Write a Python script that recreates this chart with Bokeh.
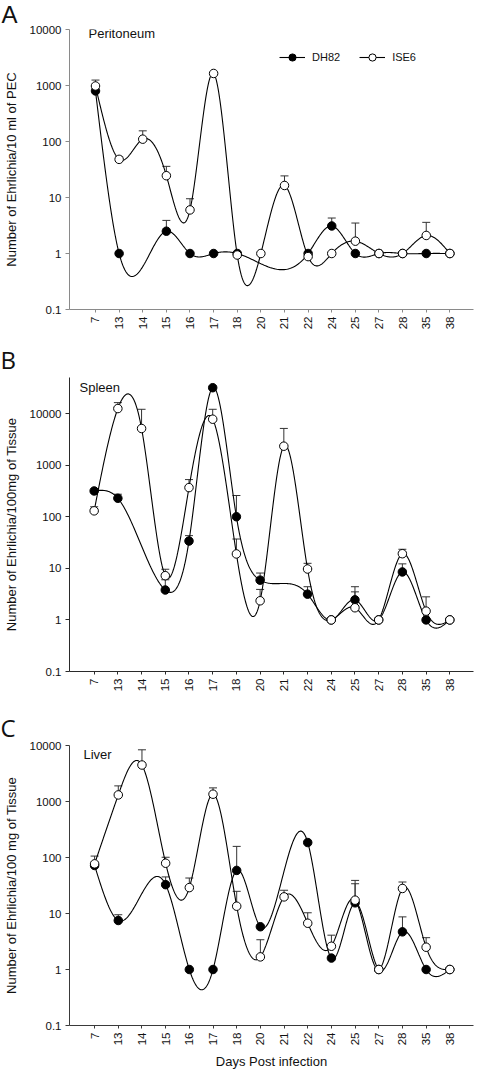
import numpy as np
from bokeh.plotting import figure
from bokeh.layouts import column
from bokeh.models import (Range1d, FixedTicker, CustomJSTickFormatter, Whisker, TeeHead,
                          ColumnDataSource, Label, Legend, LegendItem)
from bokeh.embed import file_html
from bokeh.resources import INLINE

days = ["7", "13", "14", "15", "16", "17", "18", "20", "21", "22", "24", "25", "27", "28", "35", "38"]
ytick_vals = [0.1, 1, 10, 100, 1000, 10000]

peri_dh82 = [800, 1, None, 2.5, 1, 1, 1, None, None, 1, 3.1, 1.0, 1, 1, 1, 1]
peri_dh82_err = [None, None, None, 3.9, None, None, None, None, None, None, 4.3, None, None, None, None, None]
peri_ise6 = [980, 48, 110, 24.5, 6, 1640, 0.94, 1, 16.4, 0.88, 1, 1.66, 1, 1, 2.1, 1]
peri_ise6_err = [1250, 54, 155, 36, 9.5, None, None, None, 24.3, None, None, 3.5, None, None, 3.6, None]

spleen_dh82 = [316, 228, None, 3.8, 33.8, 31700, 100, 5.9, None, 3.16, 1, 2.45, 1, 8.5, 1, 1]
spleen_dh82_err = [None, 273, None, 6, 43, None, 258, 8.1, None, 4.4, None, 4.4, None, 12.2, None, None]
spleen_ise6 = [130, 12500, 5130, 7.2, 367, 7770, 19, 2.35, 2330, 9.7, 1, 1.72, 1, 19.2, 1.48, 1]
spleen_ise6_err = [156, 16300, 12100, 9.6, 525, 12100, 37, 3.9, 5150, 12.5, None, 3.5, None, 23.4, 2.8, None]

liver_dh82 = [72, 7.5, None, 32.7, 1, 1, 58.8, 5.8, None, 185, 1.6, 15.5, 1, 4.7, 1, 1]
liver_dh82_err = [None, 9.5, None, 45, None, None, 158, None, None, None, None, 34, None, 8.7, None, None]
liver_ise6 = [77, 1310, 4480, 79, 29, 1350, 13.5, 1.68, 19.8, 6.7, 2.6, 17.3, 1, 28, 2.5, 1]
liver_ise6_err = [106, 1900, 8380, 101, 43, 1750, 24.9, 3.4, 26, 10.3, 4.1, 39, None, 36.5, 3.7, None]


def natural_spline(t, v, num=50):
    t = np.asarray(t, float)
    v = np.asarray(v, float)
    n = len(t)
    h = np.diff(t)
    A = np.zeros((n, n))
    b = np.zeros(n)
    A[0, 0] = 1
    A[-1, -1] = 1
    for i in range(1, n - 1):
        A[i, i - 1] = h[i - 1]
        A[i, i] = 2 * (h[i - 1] + h[i])
        A[i, i + 1] = h[i]
        b[i] = 6 * ((v[i + 1] - v[i]) / h[i] - (v[i] - v[i - 1]) / h[i - 1])
    M = np.linalg.solve(A, b)
    ox, oy = [], []
    for i in range(n - 1):
        s = np.linspace(t[i], t[i + 1], num, endpoint=(i == n - 2))
        a = t[i + 1] - s
        c = s - t[i]
        y = ((M[i] * a ** 3 + M[i + 1] * c ** 3) / (6 * h[i])
             + (v[i] / h[i] - M[i] * h[i] / 6) * a
             + (v[i + 1] / h[i] - M[i + 1] * h[i] / 6) * c)
        ox.extend(s)
        oy.extend(y)
    return np.array(ox), np.array(oy)


def curve_index(vals):
    xs = [i for i, v in enumerate(vals) if v is not None]
    ys = [np.log10(v) for v in vals if v is not None]
    sx, sy = natural_spline(xs, ys)
    return sx, 10 ** sy


def to_arr(vals):
    return np.array([np.nan if v is None else v for v in vals], float)


def make_panel(height, top, bottom, left, right, xr, ytop, ylabel, axis_color,
               dh82, dh82_err, ise6, ise6_err, name, name_pos, letter, letter_font,
               xlabel=None, legend=False):
    p = figure(width=480, height=height, y_axis_type="log",
               x_range=Range1d(*xr), y_range=Range1d(0.1, ytop),
               output_backend="svg", toolbar_location=None,
               min_border_top=top, min_border_bottom=bottom,
               min_border_left=left, min_border_right=right)
    p.outline_line_color = None
    p.xgrid.grid_line_color = None
    p.ygrid.grid_line_color = None
    p.background_fill_color = "white"

    # panel letter as title, shifted to the left edge of the canvas
    p.title.text = letter
    p.title.text_font = letter_font
    p.title.text_font_size = "24px"
    p.title.text_font_style = "normal"
    p.title.text_color = "#111111"
    p.title.align = "left"
    p.title.offset = -left
    p.title.standoff = 0
    p.title.vertical_align = "top"

    xa = p.xaxis[0]
    xa.ticker = FixedTicker(ticks=list(range(len(days))))
    xa.major_label_overrides = {i: d for i, d in enumerate(days)}
    xa.major_label_orientation = np.pi / 2
    xa.major_tick_in = 0
    xa.major_tick_out = 3
    xa.minor_tick_line_color = None
    xa.major_label_standoff = 4
    xa.axis_line_color = axis_color
    xa.major_tick_line_color = axis_color
    xa.major_label_text_font = "Liberation Sans"
    xa.major_label_text_font_size = "11.5px"
    xa.major_label_text_color = "#111111"
    if xlabel:
        xa.axis_label = xlabel
        xa.axis_label_text_font = "Liberation Sans"
        xa.axis_label_text_font_size = "13px"
        xa.axis_label_text_font_style = "normal"
        xa.axis_label_standoff = 6
        xa.axis_label_text_color = "#111111"

    ya = p.yaxis[0]
    ya.ticker = FixedTicker(ticks=ytick_vals, minor_ticks=[])
    ya.formatter = CustomJSTickFormatter(code="return tick < 1 ? tick.toFixed(1) : tick.toFixed(0);")
    ya.major_tick_in = 0
    ya.major_tick_out = 4
    ya.minor_tick_line_color = None
    ya.major_label_standoff = 4
    ya.axis_line_color = axis_color
    ya.major_tick_line_color = axis_color
    ya.major_label_text_font = "Liberation Sans"
    ya.major_label_text_font_size = "11.5px"
    ya.major_label_text_color = "#111111"
    ya.axis_label = ylabel
    ya.axis_label_text_font = "Liberation Sans"
    ya.axis_label_text_font_size = "13px"
    ya.axis_label_text_font_style = "normal"
    ya.axis_label_standoff = 8
    ya.axis_label_text_color = "#111111"

    idx = np.arange(len(days))
    renderers = {}
    for key, vals, errs, fill in (("DH82", dh82, dh82_err, "black"), ("ISE6", ise6, ise6_err, "white")):
        cx, cy = curve_index(vals)
        ln = p.line(cx, cy, line_color="black", line_width=1.1)
        arr = to_arr(vals)
        bx = [i for i, e in enumerate(errs) if e is not None]
        src = ColumnDataSource(dict(base=bx, lower=[vals[i] for i in bx], upper=[errs[i] for i in bx]))
        wk = Whisker(base="base", lower="lower", upper="upper", source=src,
                     lower_head=None,
                     upper_head=TeeHead(size=8, line_color="#333333", line_width=1),
                     line_color="#333333", line_width=1, level="underlay")
        p.add_layout(wk)
        renderers[key] = (ln, arr, fill)
    scat = {}
    for key in ("DH82", "ISE6"):
        ln, arr, fill = renderers[key]
        sc = p.scatter(idx, arr, marker="circle", size=8.5, fill_color=fill,
                       line_color="black", line_width=1)
        scat[key] = (ln, sc)

    if legend:
        lg = Legend(items=[LegendItem(label="DH82", renderers=list(scat["DH82"])),
                           LegendItem(label="ISE6", renderers=list(scat["ISE6"]))],
                    location=(210, 243), orientation="horizontal",
                    glyph_width=26, glyph_height=18, label_height=18,
                    label_standoff=7, spacing=19, padding=0, margin=0,
                    border_line_color=None, background_fill_alpha=0,
                    label_text_font="Liberation Sans", label_text_font_size="11px",
                    label_text_color="#111111")
        p.add_layout(lg)

    p.add_layout(Label(x=name_pos[0], y=name_pos[1], x_units="screen", y_units="screen",
                       text=name, text_font="Liberation Sans", text_font_size="13px",
                       text_baseline="alphabetic", text_color="#111111"))
    return p


pA = make_panel(342, 24, 33, 68, 5, (-1.1, 16.0), 10000,
                "Number of Ehrlichia/10 ml of PEC", "#8a8a8a",
                peri_dh82, peri_dh82_err, peri_ise6, peri_ise6_err,
                "Peritoneum", (19, 276), "A", "Liberation Sans", legend=True)
pB = make_panel(368, 33, 39, 69, 0, (-1.04, 16.0), 50000,
                "Number of Ehrlichia/100mg of Tissue", "#2a2a2a",
                spleen_dh82, spleen_dh82_err, spleen_ise6, spleen_ise6_err,
                "Spleen", (10, 284), "B", "Open Sans")
pC = make_panel(362, 33, 47, 69, 7, (-1.06, 16.0), 10000,
                "Number of Ehrlichia/100 mg of Tissue", "#3a3a3a",
                liver_dh82, liver_dh82_err, liver_ise6, liver_ise6_err,
                "Liver", (14, 271), "C", "Open Sans",
                xlabel="Days Post infection")

layout = column(pA, pB, pC, spacing=0)

with open("out.html", "w") as f:
    f.write(file_html(layout, INLINE))
